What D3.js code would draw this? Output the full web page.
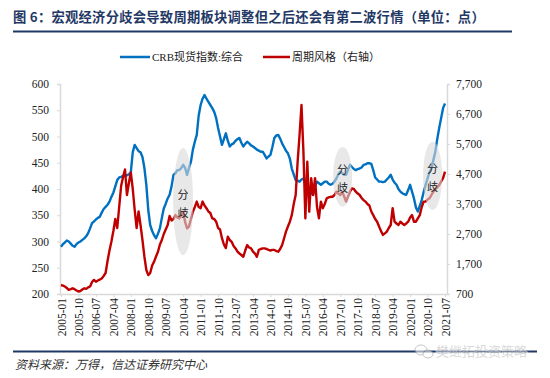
<!DOCTYPE html>
<html><head><meta charset="utf-8">
<script src="https://cdn.jsdelivr.net/npm/d3@7"></script>
<style>
body{margin:0;background:#fff;}
svg{display:block;}
</style></head>
<body><svg id="c" width="550" height="378"></svg>
<script>
// ---- data (monthly, starting 2005-01) ----
const startYear = 2005, startMonth = 1;
const crb = [290,295,298,302,300,296,292,290,295,298,300,303,306,310,316,325,335,338,342,345,347,355,362,366,370,376,385,393,405,417,422,423,425,427,426,428,432,470,484,478,472,470,461,440,408,360,331,320,312,306,315,325,345,363,372,382,389,405,427,430,436,436,440,446,440,427,440,452,475,490,503,540,560,572,579,572,566,560,554,547,535,516,500,484,495,506,492,481,485,487,492,495,497,488,481,486,490,487,483,481,478,475,473,471,471,465,458,462,465,480,497,502,503,496,487,480,473,468,458,439,428,417,416,414,418,420,410,401,395,392,389,405,414,411,408,411,414,414,410,408,410,414,420,428,433,430,427,427,437,446,442,438,436,438,439,441,446,447,449,449,448,436,422,418,414,414,413,414,418,422,427,418,412,408,400,395,392,390,389,398,408,395,382,365,357,368,379,394,408,420,432,439,455,471,495,516,535,554,563];
const cycle = [1000,980,950,900,840,860,890,860,820,780,800,850,890,870,920,950,1100,1170,1110,1150,1180,1220,1300,1400,1800,2150,2450,2800,3200,2900,3600,4300,4600,4850,4000,4400,4750,4200,3500,2900,3450,3000,2500,1950,1500,1330,1400,1650,1780,1950,2110,2350,2500,2700,2850,3000,3300,3150,3200,3330,3250,3220,3350,3440,3100,2890,2950,3200,3440,3600,3780,3600,3560,3780,3650,3560,3450,3400,3220,3200,3110,2900,2850,2560,2350,2230,2610,2500,2440,2300,2220,2110,2050,2000,1940,2150,2330,2250,2220,2110,2050,1940,2170,2200,2220,2220,2200,2170,2150,2170,2170,2130,2110,2200,2330,2550,2780,2950,3110,3330,3700,4000,5100,6000,7000,5440,3220,5110,3440,4560,4000,4560,3600,3220,3780,3560,3700,3890,3920,3940,3940,4000,4110,4050,4000,4110,3950,3780,3950,4110,4220,4200,4110,4050,4000,3900,3830,3780,3700,3650,3450,3330,3200,3110,2950,2800,2670,2720,2780,2900,3000,3560,3110,3050,3000,3110,3050,3000,3050,3110,3250,3330,3110,3110,3220,3330,3600,3780,3780,3850,3890,4000,4110,4200,4250,4330,4450,4560,4780];
const xTickLabels = ["2005-01","2005-10","2006-07","2007-04","2008-01","2008-10","2009-07","2010-04","2011-01","2011-10","2012-07","2013-04","2014-01","2014-10","2015-07","2016-04","2017-01","2017-10","2018-07","2019-04","2020-01","2020-10","2021-07"];
const leftTicks = [200,250,300,350,400,450,500,550,600];
const rightTicks = [700,1700,2700,3700,4700,5700,6700,7700];
// divergence annotations: month-index span and left-axis value span
const divergences = [
  {m0: 57.8, m1: 68.1, v0: 274, v1: 478},
  {m0: 140.3, m1: 150.1, v0: 366, v1: 480},
  {m0: 186.7, m1: 196.5, v0: 360, v1: 490}
];
const seriesNames = ["CRB现货指数:综合", "周期风格（右轴）"];
const title = "图 6：宏观经济分歧会导致周期板块调整但之后还会有第二波行情（单位：点）";
const source = "资料来源：万得，信达证券研究中心";

// ---- drawing ----
const svg = d3.select("#c");
const navy = "#1f3864", blue = "#0070c0", red = "#c00000", axisC = "#d9d9d9";
const serif = "'Liberation Serif','DejaVu Serif',serif";
const cjk = "'Noto Sans CJK SC','Noto Sans',sans-serif";

const monthIndex = s => { const [y, m] = s.split("-").map(Number); return (y - startYear) * 12 + (m - startMonth); };
const nMax = monthIndex(xTickLabels[xTickLabels.length - 1]);

const plot = {left: 60, right: 447, top: 84, bottom: 294};
const x = d3.scaleLinear().domain([0, nMax]).range([61, 445]);
const yL = d3.scaleLinear().domain([200, 600]).range([plot.bottom, plot.top]);
const yR = d3.scaleLinear().domain([700, 7700]).range([plot.bottom, plot.top]);

// title
svg.append("text").attr("x", 13).attr("y", 22).attr("font-family", cjk).attr("font-weight", "bold")
  .attr("font-size", 13.3).attr("letter-spacing", 0.25).attr("fill", navy).attr("xml:space", "preserve").text(title);
svg.append("line").attr("x1", 13).attr("x2", 512).attr("y1", 31.5).attr("y2", 31.5).attr("stroke", navy).attr("stroke-width", 2);

// legend
const lg = svg.append("g").attr("transform", "translate(0,57)");
lg.append("line").attr("x1", 120).attr("x2", 150).attr("stroke", blue).attr("stroke-width", 2.5);
lg.append("text").attr("x", 152).attr("y", 4).attr("font-family", serif + "," + cjk).attr("font-size", 11).attr("fill", "#222").text(seriesNames[0]);
lg.append("line").attr("x1", 263).attr("x2", 290).attr("stroke", red).attr("stroke-width", 2.5);
lg.append("text").attr("x", 292).attr("y", 4).attr("font-family", cjk).attr("font-size", 11).attr("fill", "#222").text(seriesNames[1]);

// axes
const axL = d3.axisLeft(yL).tickValues(leftTicks).tickSize(3).tickPadding(8);
const gL = svg.append("g").attr("transform", `translate(${plot.left},0)`).call(axL);
const axR = d3.axisRight(yR).tickValues(rightTicks).tickSize(3).tickPadding(6).tickFormat(d3.format(","));
const gR = svg.append("g").attr("transform", `translate(${plot.right},0)`).call(axR);
const axB = d3.axisBottom(x).tickValues(xTickLabels.map(monthIndex)).tickSize(3).tickPadding(3)
  .tickFormat((d, i) => xTickLabels[i]);
const gB = svg.append("g").attr("transform", `translate(0,${plot.bottom})`).call(axB);
gB.select(".domain").attr("d", `M${plot.left},0.5H${plot.right}`);
gB.selectAll("text").attr("transform", "rotate(-90)").attr("text-anchor", "end")
  .attr("x", -4).attr("y", 0).attr("dy", "0.35em");
[gL, gR, gB].forEach(g => {
  g.selectAll(".domain").attr("stroke", axisC).attr("stroke-width", 1.5);
  g.selectAll(".tick line").attr("stroke", axisC);
  g.selectAll("text").attr("font-family", serif).attr("font-size", 11.5).attr("fill", "#222");
});

// lines
const lineL = d3.line().x((d, i) => x(i)).y(d => yL(d));
const lineR = d3.line().x((d, i) => x(i)).y(d => yR(d));
svg.append("path").datum(crb).attr("d", lineL).attr("fill", "none").attr("stroke", blue).attr("stroke-width", 2.4).attr("stroke-linejoin", "round");
svg.append("path").datum(cycle).attr("d", lineR).attr("fill", "none").attr("stroke", red).attr("stroke-width", 2.4).attr("stroke-linejoin", "round");

// divergence ellipses
divergences.forEach(d => {
  const cx = (x(d.m0) + x(d.m1)) / 2, cy = (yL(d.v0) + yL(d.v1)) / 2;
  const rx = Math.abs(x(d.m1) - x(d.m0)) / 2, ry = Math.abs(yL(d.v0) - yL(d.v1)) / 2;
  svg.append("ellipse").attr("cx", cx).attr("cy", cy).attr("rx", rx).attr("ry", ry)
    .attr("fill", "#d9d9d9").attr("fill-opacity", 0.6);
  svg.append("text").attr("x", cx).attr("y", cy - 8).attr("text-anchor", "middle").attr("dominant-baseline", "central")
    .attr("font-family", cjk).attr("font-size", 11).attr("fill", "#222").text("分");
  svg.append("text").attr("x", cx).attr("y", cy + 10).attr("text-anchor", "middle").attr("dominant-baseline", "central")
    .attr("font-family", cjk).attr("font-size", 11).attr("fill", "#222").text("歧");
});

// footer
svg.append("line").attr("x1", 13).attr("x2", 537).attr("y1", 351.5).attr("y2", 351.5).attr("stroke", navy).attr("stroke-width", 2);
svg.append("text").attr("x", 15).attr("y", 369).attr("font-family", cjk).attr("font-style", "italic")
  .attr("font-size", 12).attr("fill", "#333").text(source);
// watermark
const wm = svg.append("g").attr("opacity", 0.55);
wm.append("ellipse").attr("cx", 421).attr("cy", 350).attr("rx", 6).attr("ry", 5).attr("fill", "#fff").attr("stroke", "#999");
wm.append("ellipse").attr("cx", 428).attr("cy", 354).attr("rx", 5).attr("ry", 4).attr("fill", "#fff").attr("stroke", "#999");
wm.append("text").attr("x", 436).attr("y", 356).attr("font-family", cjk).attr("font-size", 13)
  .attr("fill", "#bbb").attr("stroke", "#fff").attr("stroke-width", 2).attr("paint-order", "stroke").text("樊继拓投资策略");
</script></body></html>
